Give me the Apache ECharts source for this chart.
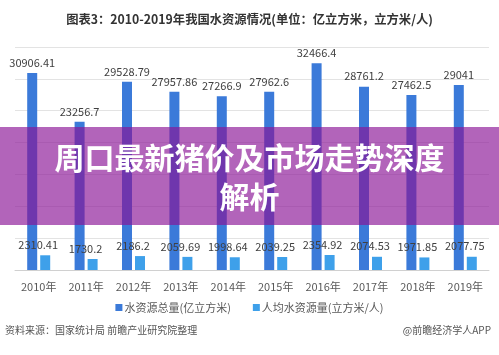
<!DOCTYPE html>
<html><head><meta charset="utf-8">
<style>html,body{margin:0;padding:0;background:#fff}#c{width:499px;height:355px}</style>
<script src="https://cdn.jsdelivr.net/npm/echarts@6/dist/echarts.min.js"></script>
</head><body><div id="c"></div>
<script>
var categories = ['2010年','2011年','2012年','2013年','2014年','2015年','2016年','2017年','2018年','2019年'];
var totalWater = [30906.41, 23256.7, 29528.79, 27957.86, 27266.9, 27962.6, 32466.4, 28761.2, 27462.5, 29041];
var perCapita = [2310.41, 1730.2, 2186.2, 2059.69, 1998.64, 2039.25, 2354.92, 2074.53, 1971.85, 2077.75];
var seriesNames = ['水资源总量(亿立方米)', '人均水资源量(立方米/人)'];
var titleText = '图表3：2010-2019年我国水资源情况(单位：亿立方米，立方米/人)';
var bannerLines = ['周口最新猪价及市场走势深度', '解析'];
var sourceText = '资料来源：国家统计局 前瞻产业研究院整理';
var brandText = '@前瞻经济学人APP';

var chart = echarts.init(document.getElementById('c'), null, {renderer:'canvas'});
var font = '"Microsoft YaHei","Noto Sans CJK SC",sans-serif';
chart.setOption({
  animation:false,
  textStyle:{fontFamily:font},
  title:{text:titleText, left:'center', top:8, textStyle:{fontSize:12.3, fontWeight:'bold', color:'#333', fontFamily:font}},
  legend:{bottom:37, left:'center', itemWidth:7, itemHeight:7, itemGap:22, icon:'rect',
    textStyle:{fontSize:11, color:'#595959', padding:[0,0,0,-3]}, data:seriesNames},
  grid:{left:15, right:10, top:47, bottom:85},
  xAxis:{type:'category', data:categories,
    axisLine:{lineStyle:{color:'#d0d0d0'}}, axisTick:{show:false},
    axisLabel:{color:'#595959', fontSize:11, margin:11}},
  yAxis:{type:'value', min:0, max:35000, interval:5000,
    axisLabel:{show:false}, axisLine:{show:false}, axisTick:{show:false},
    splitLine:{lineStyle:{color:'#e3e3e3'}}},
  series:[
    {name:seriesNames[0], type:'bar', data:totalWater, barWidth:10, barGap:'30%',
     itemStyle:{color:'#3b7ad9'},
     label:{show:true, position:'top', distance:5, color:'#404040', fontSize:11}},
    {name:seriesNames[1], type:'bar', data:perCapita, barWidth:10,
     itemStyle:{color:'#3ea0ea'},
     label:{show:true, position:'top', distance:5, offset:[-7,0], color:'#404040', fontSize:11}}
  ],
  graphic:[
    {type:'rect', left:0, top:127, shape:{width:499, height:98}, style:{fill:'rgba(138,20,150,0.66)'}, z:100},
    {type:'text', left:'center', top:143, z:101, style:{text:bannerLines[0], fill:'#fff', font:'bold 30px '+font, textAlign:'center',
      shadowBlur:3, shadowColor:'rgba(0,0,0,0.3)'}},
    {type:'text', left:'center', top:182, z:101, style:{text:bannerLines[1], fill:'#fff', font:'bold 30px '+font, textAlign:'center',
      shadowBlur:3, shadowColor:'rgba(0,0,0,0.3)'}},
    {type:'text', left:5, top:325, z:50, style:{text:sourceText, fill:'#555', font:'10px '+font}},
    {type:'text', right:8, top:325, z:50, style:{text:brandText, fill:'#555', font:'10px '+font}}
  ]
});
</script></body></html>
